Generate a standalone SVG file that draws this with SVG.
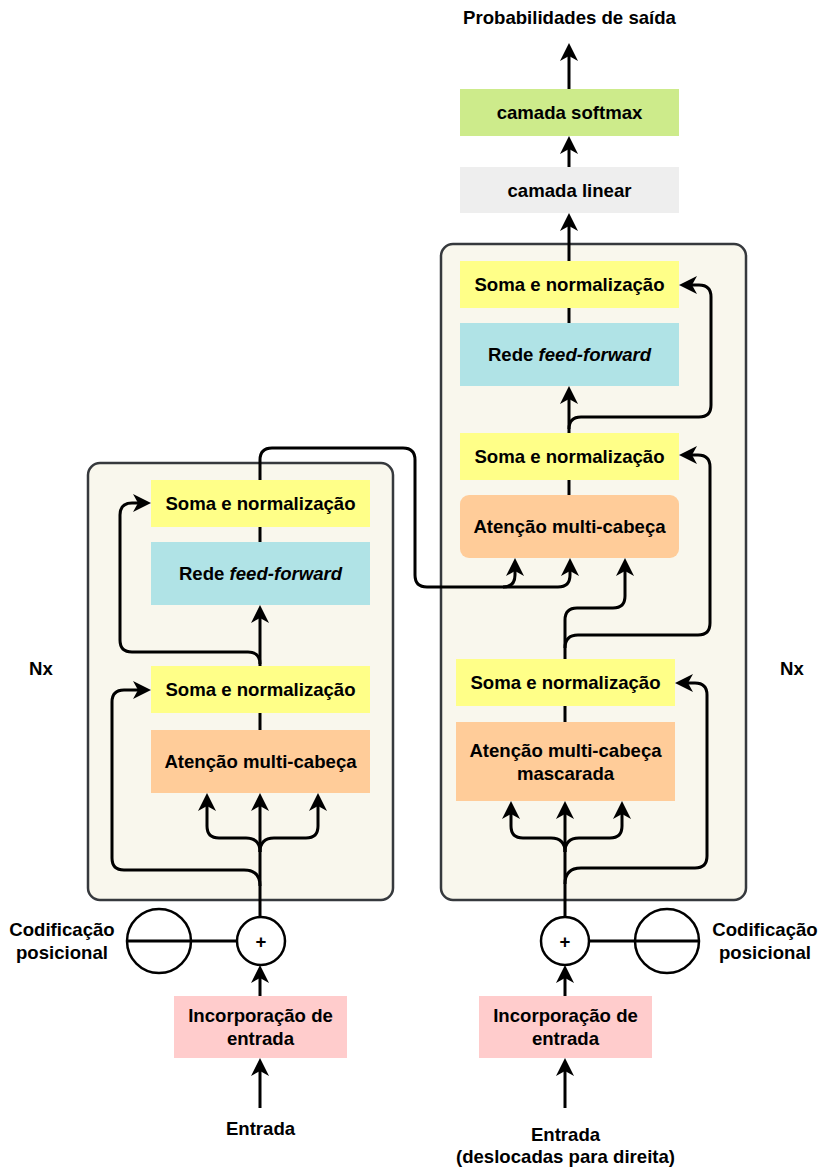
<svg xmlns="http://www.w3.org/2000/svg" width="824" height="1167" viewBox="0 0 824 1167">
  <style>
    .t { font-family: "Liberation Sans", Arial, sans-serif; font-weight: bold; font-size: 18.6px; fill: #000; text-anchor: middle; }
    .cont { fill: #f9f7ed; stroke: #36393d; stroke-width: 2.5; }
    .sn { fill: #ffff88; }
    .ff { fill: #b0e3e6; }
    .att { fill: #ffcc99; }
    .emb { fill: #ffcccc; }
    .lin { fill: #eeeeee; }
    .soft { fill: #cdeb8b; }
    .c { fill: none; stroke: #000; stroke-width: 3; }
    .a { marker-end: url(#arr); }
    .circ { fill: #fff; stroke: #000; stroke-width: 2.5; }
  </style>
  <defs>
    <marker id="arr" markerWidth="18" markerHeight="18" viewBox="0 0 18 18" refX="14" refY="9" orient="auto" markerUnits="userSpaceOnUse">
      <path d="M0,0 L18,9 L0,18 L5,9 z" fill="#000"/>
    </marker>
  </defs>

  <rect width="824" height="1167" fill="#fff"/>

  <!-- stack containers -->
  <g id="encoder-stack"><rect class="cont" x="88" y="463" width="305" height="437" rx="12"/></g>
  <g id="decoder-stack"><rect class="cont" x="441" y="244" width="305" height="656" rx="12"/></g>

  <!-- connectors -->
  <g id="connectors">
    <!-- encoder -->
    <path class="c a" d="M260,1108 L260,1062"/>
    <path class="c a" d="M260,996 L260,969"/>
    <path class="c a" d="M260,917 L260,797"/>
    <path class="c a" d="M260,852 Q260,838 246,838 L219,838 Q207,838 207,826 L207,797"/>
    <path class="c a" d="M260,852 Q260,838 274,838 L306,838 Q318,838 318,826 L318,797"/>
    <path class="c a" d="M260,886 Q260,870 244,870 L124,870 Q112,870 112,858 L112,702 Q112,690 124,690 L147,690"/>
    <path class="c" d="M260,730 L260,713"/>
    <path class="c a" d="M260,666 L260,609"/>
    <path class="c a" d="M260,664 Q260,652 248,652 L132,652 Q120,652 120,640 L120,515 Q120,503 132,503 L147,503"/>
    <path class="c" d="M260,542 L260,527"/>
    <!-- encoder output to decoder cross attention -->
    <path class="c a" d="M260,480 L260,460 Q260,448 272,448 L403,448 Q415,448 415,460 L415,575 Q415,587 427,587 L503,587 Q515,587 515,575 L515,562"/>
    <path class="c a" d="M503,587 L558,587 Q570,587 570,575 L570,562"/>

    <!-- decoder -->
    <path class="c a" d="M565,1108 L565,1062"/>
    <path class="c a" d="M565,996 L565,969"/>
    <path class="c a" d="M565,917 L565,805"/>
    <path class="c a" d="M565,852 Q565,838 551,838 L523,838 Q511,838 511,826 L511,805"/>
    <path class="c a" d="M565,852 Q565,838 579,838 L610,838 Q622,838 622,826 L622,805"/>
    <path class="c a" d="M565,884 Q565,868 581,868 L695,868 Q707,868 707,856 L707,695 Q707,683 695,683 L679,683"/>
    <path class="c" d="M565,722 L565,706"/>
    <path class="c a" d="M565,659 L565,620 Q565,608 577,608 L613,608 Q625,608 625,596 L625,562"/>
    <path class="c a" d="M565,648 Q565,635 578,635 L698,635 Q710,635 710,623 L710,467 Q710,455 698,455 L683,455"/>
    <path class="c" d="M569,495 L569,480"/>
    <path class="c a" d="M569,433 L569,390"/>
    <path class="c a" d="M569,429 Q569,417 581,417 L699,417 Q711,417 711,405 L711,297 Q711,285 699,285 L683,285"/>
    <path class="c" d="M569,323 L569,308"/>
    <path class="c a" d="M569,261 L569,217"/>
    <path class="c a" d="M569,167 L569,140"/>
    <path class="c a" d="M569,89 L569,47"/>

    <!-- positional encoding links -->
    <path class="c" d="M127,941 L237,941"/>
    <path class="c" d="M589,941 L698,941"/>
  </g>

  <!-- encoder nodes -->
  <g id="enc-sum-norm-2">
    <rect class="sn" x="151" y="480" width="219" height="47"/>
    <text class="t" x="260.5" y="510">Soma e normalização</text>
  </g>
  <g id="enc-feed-forward">
    <rect class="ff" x="151" y="542" width="219" height="63"/>
    <text class="t" x="260.5" y="580">Rede <tspan font-style="italic">feed-forward</tspan></text>
  </g>
  <g id="enc-sum-norm-1">
    <rect class="sn" x="151" y="666" width="219" height="47"/>
    <text class="t" x="260.5" y="696">Soma e normalização</text>
  </g>
  <g id="enc-attention">
    <rect class="att" x="151" y="730" width="219" height="63"/>
    <text class="t" x="260.5" y="768">Atenção multi-cabeça</text>
  </g>
  <g id="enc-pos-encoding">
    <circle class="circ" cx="159" cy="941" r="32"/>
    <path class="c" d="M127,941 L191,941"/>
    <text class="t" x="62" y="936">Codificação</text>
    <text class="t" x="62" y="959">posicional</text>
  </g>
  <g id="enc-add">
    <circle class="circ" cx="261" cy="941" r="24"/>
    <text class="t" x="261" y="948" font-size="20">+</text>
  </g>
  <g id="enc-embedding">
    <rect class="emb" x="174" y="996" width="173" height="62"/>
    <text class="t" x="260.5" y="1022">Incorporação de</text>
    <text class="t" x="260.5" y="1045">entrada</text>
  </g>
  <g id="enc-input"><text class="t" x="260.5" y="1135">Entrada</text></g>
  <g id="enc-nx"><text class="t" x="41" y="675">Nx</text></g>

  <!-- decoder nodes -->
  <g id="dec-sum-norm-3">
    <rect class="sn" x="460" y="261" width="219" height="47"/>
    <text class="t" x="569.5" y="291">Soma e normalização</text>
  </g>
  <g id="dec-feed-forward">
    <rect class="ff" x="460" y="323" width="219" height="63"/>
    <text class="t" x="569.5" y="361">Rede <tspan font-style="italic">feed-forward</tspan></text>
  </g>
  <g id="dec-sum-norm-2">
    <rect class="sn" x="460" y="433" width="219" height="47"/>
    <text class="t" x="569.5" y="463">Soma e normalização</text>
  </g>
  <g id="dec-cross-attention">
    <rect class="att" x="460" y="495" width="219" height="63" rx="9"/>
    <text class="t" x="569.5" y="533">Atenção multi-cabeça</text>
  </g>
  <g id="dec-sum-norm-1">
    <rect class="sn" x="456" y="659" width="219" height="47"/>
    <text class="t" x="565.5" y="689">Soma e normalização</text>
  </g>
  <g id="dec-masked-attention">
    <rect class="att" x="456" y="722" width="219" height="79"/>
    <text class="t" x="565.5" y="757">Atenção multi-cabeça</text>
    <text class="t" x="565.5" y="780">mascarada</text>
  </g>
  <g id="dec-add">
    <circle class="circ" cx="565" cy="941" r="24"/>
    <text class="t" x="565" y="948" font-size="20">+</text>
  </g>
  <g id="dec-pos-encoding">
    <circle class="circ" cx="667" cy="941" r="32"/>
    <path class="c" d="M635,941 L699,941"/>
    <text class="t" x="765" y="936">Codificação</text>
    <text class="t" x="765" y="959">posicional</text>
  </g>
  <g id="dec-embedding">
    <rect class="emb" x="479" y="996" width="173" height="62"/>
    <text class="t" x="565.5" y="1022">Incorporação de</text>
    <text class="t" x="565.5" y="1045">entrada</text>
  </g>
  <g id="dec-input">
    <text class="t" x="565.5" y="1141">Entrada</text>
    <text class="t" x="565.5" y="1163">(deslocadas para direita)</text>
  </g>
  <g id="dec-nx"><text class="t" x="792" y="675">Nx</text></g>

  <!-- output head -->
  <g id="linear">
    <rect class="lin" x="460" y="167" width="219" height="46"/>
    <text class="t" x="569.5" y="197">camada linear</text>
  </g>
  <g id="softmax">
    <rect class="soft" x="460" y="89" width="219" height="47"/>
    <text class="t" x="569.5" y="119">camada softmax</text>
  </g>
  <g id="output"><text class="t" x="569.5" y="24">Probabilidades de saída</text></g>
</svg>
